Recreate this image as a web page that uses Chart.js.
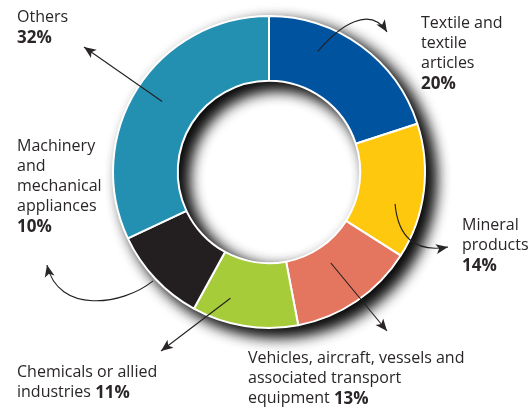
<!DOCTYPE html>
<html>
<head>
<meta charset="utf-8">
<script src="https://cdn.jsdelivr.net/npm/chart.js@4"></script>
<style>
    html, body { margin: 0; padding: 0; background: #ffffff; }
    #wrap { width: 532px; height: 408px; position: relative; }
</style>
</head>
<body>
<div id="wrap"><canvas id="shareChart"></canvas></div>
<script>
// --- Data ---
const categories = [
    "Textile and textile articles",
    "Mineral products",
    "Vehicles, aircraft, vessels and associated transport equipment",
    "Chemicals or allied industries",
    "Machinery and mechanical appliances",
    "Others"
];
const shares = [20, 14, 13, 11, 10, 32];
const sliceColors = ["#00539f", "#fdc80d", "#e4755f", "#a6cc3a", "#231f20", "#2490b1"];

// label text: lines of plain text, the last line gets the bold percent
const labelLines = [
    ["Textile and", "textile", "articles", ""],
    ["Mineral", "products", ""],
    ["Vehicles, aircraft, vessels and", "associated transport", "equipment "],
    ["Chemicals or allied", "industries "],
    ["Machinery", "and", "mechanical", "appliances", ""],
    ["Others", ""]
];

// --- Callout layout (text anchor + arrow path) ---
const callouts = [
    { x: 421, y: 28, angleShift: -14, r: 130,
      path: [[340, 25], [370, 5], [387, 32]] },
    { x: 462, y: 230, angleShift: 7, r: 130,
      path: [[398, 236], [414, 253], [448, 247]] },
    { x: 248, y: 363, angleShift: 0, r: 110,
      path: [[387, 331]] },
    { x: 17, y: 377, angleShift: 8, r: 132,
      path: [[161, 351]] },
    { x: 17, y: 151, angleShift: 0, r: 159,
      path: [[122, 306], [58, 314], [47, 265]] },
    { x: 17, y: 22, angleShift: 1, r: 128,
      path: [[84, 47]] }
];

// soft drop shadow under the whole ring (shows outside bottom-right and inside the hole)
const ringShadow = {
    id: "ringShadow",
    beforeDatasetsDraw(chart) {
        const arc = chart.getDatasetMeta(0).data[0];
        if (!arc) return;
        const ctx = chart.ctx;
        ctx.save();
        ctx.shadowColor = "rgba(0,0,0,0.85)";
        ctx.shadowBlur = 16;
        ctx.shadowOffsetX = 9;
        ctx.shadowOffsetY = 7;
        ctx.fillStyle = "#ffffff";
        for (let k = 0; k < 2; k++) {
            ctx.beginPath();
            ctx.arc(arc.x, arc.y, arc.outerRadius, 0, Math.PI * 2);
            ctx.arc(arc.x, arc.y, arc.innerRadius, Math.PI * 2, 0, true);
            ctx.closePath();
            ctx.fill();
        }
        ctx.restore();
    }
};

function drawArrowHead(ctx, fromX, fromY, toX, toY) {
    const a = Math.atan2(toY - fromY, toX - fromX);
    const len = 12, half = 5;
    ctx.beginPath();
    ctx.moveTo(toX, toY);
    ctx.lineTo(toX - len * Math.cos(a) + half * Math.sin(a), toY - len * Math.sin(a) - half * Math.cos(a));
    ctx.lineTo(toX - len * Math.cos(a) * 0.75, toY - len * Math.sin(a) * 0.75);
    ctx.lineTo(toX - len * Math.cos(a) - half * Math.sin(a), toY - len * Math.sin(a) + half * Math.cos(a));
    ctx.closePath();
    ctx.fill();
}

const callOutLabels = {
    id: "callOutLabels",
    afterDraw(chart) {
        const ctx = chart.ctx;
        const meta = chart.getDatasetMeta(0);
        ctx.save();
        ctx.strokeStyle = "#231f20";
        ctx.fillStyle = "#2a2627";
        ctx.lineWidth = 1.1;

        meta.data.forEach((arc, i) => {
            const c = callouts[i];
            const mid = (arc.startAngle + arc.endAngle) / 2 + c.angleShift * Math.PI / 180;
            const sx = arc.x + c.r * Math.cos(mid);
            const sy = arc.y + c.r * Math.sin(mid);

            // arrow line
            ctx.beginPath();
            ctx.moveTo(sx, sy);
            let prev = [sx, sy];
            if (c.path.length === 3) {
                ctx.bezierCurveTo(c.path[0][0], c.path[0][1], c.path[1][0], c.path[1][1], c.path[2][0], c.path[2][1]);
                prev = c.path[1];
            } else {
                ctx.lineTo(c.path[0][0], c.path[0][1]);
            }
            ctx.stroke();
            const end = c.path[c.path.length - 1];
            drawArrowHead(ctx, prev[0], prev[1], end[0], end[1]);

            // label text
            const lines = labelLines[i];
            ctx.textBaseline = "alphabetic";
            ctx.textAlign = "left";
            lines.forEach((line, j) => {
                const y = c.y + j * 20;
                ctx.font = "16px 'Open Sans', sans-serif";
                ctx.fillText(line, c.x, y);
                if (j === lines.length - 1) {
                    const w = ctx.measureText(line).width;
                    ctx.font = "bold 17px 'Open Sans', sans-serif";
                    ctx.fillText(shares[i] + "%", c.x + w, y + 1);
                }
            });
        });
        ctx.restore();
    }
};

new Chart(document.getElementById("shareChart"), {
    type: "doughnut",
    data: {
        labels: categories,
        datasets: [{
            data: shares,
            backgroundColor: sliceColors,
            borderColor: "#ffffff",
            borderWidth: 2
        }]
    },
    options: {
        responsive: true,
        maintainAspectRatio: false,
        animation: false,
        cutout: "58.5%",
        layout: { padding: { top: 15, bottom: 79, left: 112, right: 106 } },
        plugins: {
            legend: { display: false },
            tooltip: { enabled: false }
        }
    },
    plugins: [ringShadow, callOutLabels]
});
</script>
</body>
</html>
